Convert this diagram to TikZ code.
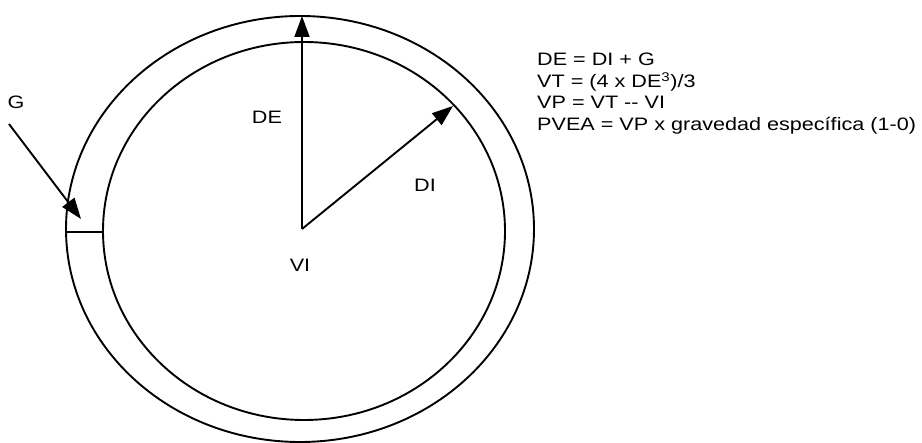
\documentclass[tikz,border=0pt]{standalone}
\usepackage{fontspec}
\setmainfont{Liberation Sans}[FakeStretch=1.2]
\usetikzlibrary{arrows.meta}
\begin{document}
\begin{tikzpicture}[x=1pt,y=-1pt,
  ln/.style={line width=1.9pt},
  arr/.style={ln,-{Triangle[length=21pt,width=15pt]}},
  lbl/.style={font=\fontsize{18}{21}\selectfont, inner sep=0pt},
]
\useasboundingbox (0,0) rectangle (922,443);
% rings
\draw[ln] (300,229) ellipse [x radius=234, y radius=213];
\draw[ln] (304,231) ellipse [x radius=201, y radius=189];
% points
\coordinate (O) at (302,229);
\coordinate (DEtip) at (302,16);
\coordinate (DItip) at (453,106);
\coordinate (Gstart) at (9,124);
\coordinate (Gtip) at (81,219);
\coordinate (T1) at (67,232);
\coordinate (T2) at (104,232);
% connectors
\draw[arr] (O) -- (DEtip);
\draw[arr] (O) -- (DItip);
\draw[arr] (Gstart) -- (Gtip);
\draw[line width=1.5pt] (T1) -- (T2);
% labels
\node[lbl] (lDE) at (267,117) {DE};
\node[lbl] (lDI) at (425,185) {DI};
\node[lbl] (lVI) at (300,265) {VI};
\node[lbl] (lG) at (16,102) {G};
% equations
\node[lbl, anchor=base west] (e1) at (537,66) {DE = DI + G};
\node[lbl, anchor=base west] (e2) at (537,88) {VT = (4 x DE\textsuperscript{3})/3};
\node[lbl, anchor=base west] (e3) at (537,109) {VP = VT -{}- VI};
\node[lbl, anchor=base west] (e4) at (537,131) {PVEA = VP x gravedad específica (1-0)};
\end{tikzpicture}
\end{document}
